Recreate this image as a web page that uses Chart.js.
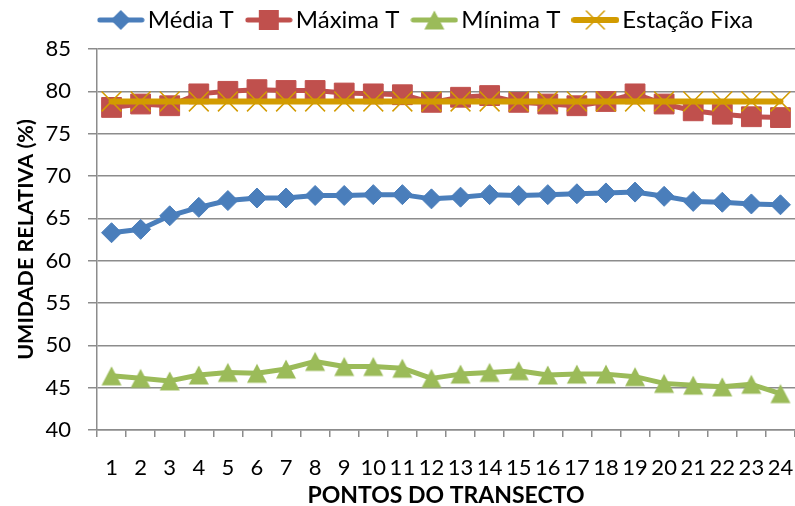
<!DOCTYPE html>
<html>
<head>
<meta charset="utf-8">
<script src="https://cdn.jsdelivr.net/npm/chart.js@4/dist/chart.umd.min.js"></script>
<style>
  html, body { margin: 0; padding: 0; background: #fff; }
  #wrap { width: 795px; height: 506px; }
</style>
</head>
<body>
<div id="wrap"><canvas id="chart" width="795" height="506"></canvas></div>
<script>
// pontos do transecto e umidade relativa (%)
let pontos = ["1", "2", "3", "4", "5", "6", "7", "8", "9", "10", "11", "12",
              "13", "14", "15", "16", "17", "18", "19", "20", "21", "22", "23", "24"];

let mediaT = [63.3, 63.7, 65.3, 66.3, 67.1, 67.4, 67.4, 67.7, 67.7, 67.8, 67.8, 67.3,
              67.5, 67.8, 67.7, 67.8, 67.9, 68.0, 68.1, 67.6, 67.0, 66.9, 66.7, 66.6];

let maximaT = [78.1, 78.5, 78.3, 79.7, 80.0, 80.2, 80.1, 80.1, 79.8, 79.7, 79.6, 78.7,
               79.3, 79.5, 78.7, 78.5, 78.3, 78.8, 79.7, 78.5, 77.7, 77.3, 77.0, 76.9];

let minimaT = [46.4, 46.1, 45.8, 46.5, 46.8, 46.7, 47.2, 48.1, 47.5, 47.5, 47.3, 46.1,
               46.6, 46.8, 47.0, 46.5, 46.6, 46.6, 46.3, 45.5, 45.3, 45.1, 45.4, 44.3];

let estacaoFixa = [78.8, 78.8, 78.8, 78.8, 78.8, 78.8, 78.8, 78.8, 78.8, 78.8, 78.8, 78.8,
                   78.8, 78.8, 78.8, 78.8, 78.8, 78.8, 78.8, 78.8, 78.8, 78.8, 78.8, 78.8];

let yTicks = [40, 45, 50, 55, 60, 65, 70, 75, 80, 85];

const AZUL = "#4A7EBB";
const VERMELHO = "#C0504D";
const VERDE = "#9BBB59";
const OURO = "#D29B00";
const CINZA = "#8C8C8C";
const FONTE = "Lato, 'Open Sans', sans-serif";

// triangulo centrado pela caixa (o do Chart.js fica centrado pelo circuncentro)
function triangulo(color) {
  let c = document.createElement("canvas");
  c.width = 22;
  c.height = 22;
  let g = c.getContext("2d");
  g.fillStyle = color;
  g.beginPath();
  g.moveTo(11, 1.5);
  g.lineTo(21, 20.5);
  g.lineTo(1, 20.5);
  g.closePath();
  g.fill();
  return c;
}

// desenha o simbolo da legenda: linha grossa com o marcador no meio
function legendIcon(color, style, lineWidth) {
  let c = document.createElement("canvas");
  c.width = 48;
  c.height = 28;
  let g = c.getContext("2d");
  g.strokeStyle = color;
  g.fillStyle = color;
  g.lineWidth = lineWidth;
  g.lineCap = "round";
  g.beginPath();
  g.moveTo(3, 14);
  g.lineTo(45, 14);
  g.stroke();

  let x = 24, y = 14;
  g.beginPath();
  if (style === "diamond") {
    g.moveTo(x, y - 10); g.lineTo(x + 10, y); g.lineTo(x, y + 10); g.lineTo(x - 10, y);
    g.closePath(); g.fill();
  } else if (style === "square") {
    g.rect(x - 10, y - 10, 20, 20); g.fill();
  } else if (style === "triangle") {
    g.moveTo(x, y - 9.5); g.lineTo(x + 10, y + 9.5); g.lineTo(x - 10, y + 9.5);
    g.closePath(); g.fill();
  } else if (style === "cross") {
    g.lineWidth = 1.5;
    g.moveTo(x - 9, y - 9); g.lineTo(x + 9, y + 9);
    g.moveTo(x + 9, y - 9); g.lineTo(x - 9, y + 9);
    g.stroke();
  }
  return c;
}

let icons = [
  legendIcon(AZUL, "diamond", 5),
  legendIcon(VERMELHO, "square", 5),
  legendIcon(VERDE, "triangle", 5),
  legendIcon(OURO, "cross", 6)
];

function serie(label, data, color, style, radius, width, order) {
  return {
    label: label,
    data: data,
    borderColor: color,
    backgroundColor: color,
    borderWidth: width,
    borderCapStyle: "round",
    borderJoinStyle: "round",
    pointStyle: style,
    pointRadius: radius,
    pointHoverRadius: radius,
    pointBackgroundColor: color,
    pointBorderColor: color,
    pointBorderWidth: style === "crossRot" ? 1.5 : 1,
    tension: 0,
    order: order
  };
}

// legenda: altura fixa da faixa de cima e um pequeno deslocamento
const ajusteLegenda = {
  id: "ajusteLegenda",
  beforeLayout(chart) {
    let lg = chart.legend;
    if (lg && !lg._fitOriginal) {
      lg._fitOriginal = lg.fit;
      lg.fit = function () {
        this._fitOriginal();
        this.height = 49;
      };
    }
  },
  afterLayout(chart) {
    let lg = chart.legend;
    if (!lg) return;
    lg.left += 32;
    lg.right += 32;
    lg.top -= 12;
    lg.bottom -= 12;
  }
};

let ctx = document.getElementById("chart");

let chart = new Chart(ctx, {
  type: "line",
  data: {
    labels: pontos,
    datasets: [
      serie("Média T", mediaT, AZUL, "rectRot", 10, 5, 1),
      serie("Máxima T", maximaT, VERMELHO, "rect", 14, 5, 2),
      serie("Mínima T", minimaT, VERDE, triangulo(VERDE), 11, 5, 3),
      serie("Estação Fixa", estacaoFixa, OURO, "crossRot", 14, 6, 0)
    ]
  },
  plugins: [ajusteLegenda],
  options: {
    responsive: false,
    animation: false,
    layout: {
      autoPadding: false,
      padding: { left: 0, right: 0, top: 0, bottom: 0 }
    },
    plugins: {
      tooltip: { enabled: false },
      legend: {
        position: "top",
        labels: {
          usePointStyle: true,
          pointStyleWidth: 30,
          boxHeight: 24,
          padding: 20,
          color: "#000",
          font: { family: FONTE, size: 24 },
          generateLabels: (c) => c.data.datasets.map((ds, i) => ({
            text: ds.label,
            pointStyle: icons[i],
            fillStyle: ds.borderColor,
            strokeStyle: ds.borderColor,
            lineWidth: 0,
            hidden: false,
            datasetIndex: i
          }))
        }
      }
    },
    scales: {
      x: {
        offset: true,
        afterFit: (axis) => {
          axis.height = 76;
          axis.paddingLeft = 0;
          axis.paddingRight = 0;
        },
        grid: {
          offset: true,
          drawOnChartArea: false,
          drawTicks: true,
          tickLength: 7,
          color: CINZA,
          lineWidth: 1.5
        },
        border: { display: true, color: CINZA, width: 1.5 },
        ticks: {
          autoSkip: false,
          maxRotation: 0,
          padding: 0,
          color: "#000",
          font: { family: FONTE, size: 22, lineHeight: 2.8 }
        },
        title: {
          display: true,
          text: "PONTOS DO TRANSECTO",
          color: "#000",
          font: { family: FONTE, size: 23, weight: "bold" },
          padding: { top: 0, bottom: -3 }
        }
      },
      y: {
        min: 40,
        max: 85,
        afterFit: (axis) => { axis.width = 97; },
        afterBuildTicks: (axis) => {
          axis.ticks = yTicks.map(v => ({ value: v }));
        },
        grid: {
          drawTicks: true,
          tickLength: 9,
          color: CINZA,
          lineWidth: 1.5
        },
        border: { display: true, color: CINZA, width: 1.5 },
        ticks: {
          padding: 17,
          color: "#000",
          font: { family: FONTE, size: 22 }
        },
        title: {
          display: true,
          text: "UMIDADE RELATIVA (%)",
          color: "#000",
          font: { family: FONTE, size: 21.5, weight: "bold" },
          padding: { top: 13, bottom: 0 }
        }
      }
    }
  }
});
</script>
</body>
</html>
